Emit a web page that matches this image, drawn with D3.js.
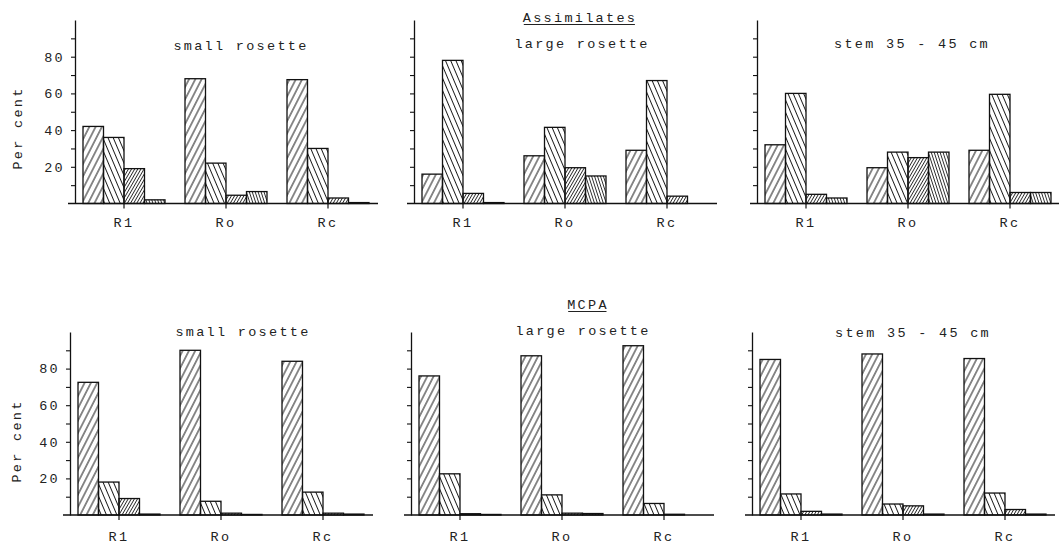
<!DOCTYPE html>
<html>
<head>
<meta charset="utf-8">
<script src="https://cdn.jsdelivr.net/npm/d3@7"></script>
<style>
  html, body { margin: 0; padding: 0; background: #fff; }
  svg { display: block; }
  text { font-family: "Liberation Mono", "DejaVu Sans Mono", monospace; fill: #222; }
</style>
</head>
<body>
<svg id="chart" width="1059" height="545"></svg>
<script>
// Categories and labels
const groups = ["R1", "Ro", "Rc"];
const fractions = [0, 1, 2, 3];            // four fractions per group, one hatch each
const rowTitles = ["Assimilates", "MCPA"];
const panelTitles = ["small rosette", "large rosette", "stem 35 - 45 cm"];
const yTickValues = [10, 20, 30, 40, 50, 60, 70, 80, 90];
const yTickLabels = [20, 40, 60, 80];
const yLabel = "Per cent";

// Per cent per fraction, one row per group (R1, Ro, Rc)
const assimSmall = [[42, 36, 19, 2], [68, 22, 4.5, 6.5], [67.5, 30, 3, 0.5]];
const assimLarge = [[16, 78, 5.5, 0.5], [26, 41.5, 19.5, 15], [29, 67, 4, 0]];
const assimStem  = [[32, 60, 5, 3], [19.5, 28, 25, 28], [29, 59.5, 6, 6]];
const mcpaSmall  = [[72.5, 18, 9, 0.5], [90, 7.5, 1, 0.3], [84, 12.5, 1, 0.5]];
const mcpaLarge  = [[76, 22.5, 0.7, 0.3], [87, 11, 1, 0.8], [92.5, 6.3, 0.4, 0]];
const mcpaStem   = [[85, 11.5, 2, 0.5], [88, 6, 5, 0.5], [85.5, 12, 3, 0.5]];

const rowData = [
  [assimSmall, assimLarge, assimStem],
  [mcpaSmall, mcpaLarge, mcpaStem]
];

// Layout of the two rows of panels
const rows = [
  { y0: 203.5, y100: 20, axisX: [75, 414, 757], titleX: 580, titleY: 22,
    subX: [241, 582, 912], subY: [50, 48, 48], labelPad: 9, yLabelX: 17, yLabelY: 128 },
  { y0: 515, y100: 332, axisX: [70, 411, 752], titleX: 588, titleY: 309,
    subX: [243, 583, 913], subY: [336, 335, 337], labelPad: 11, yLabelX: 16, yLabelY: 441 }
];

// Hatch definitions: angle from vertical, line spacing, line width
const hatches = [
  { angle: 27,  gap: 5.6, w: 1.0 },   // wide "/"
  { angle: -23, gap: 4.8, w: 1.0 },   // wide "\"
  { angle: 30,  gap: 2.7, w: 0.9 },   // dense "/"
  { angle: -18, gap: 2.8, w: 0.9 }    // dense "\"
];

const svg = d3.select("#chart");
const defs = svg.append("defs");
hatches.forEach((h, i) => {
  const p = defs.append("pattern")
    .attr("id", "hatch" + i)
    .attr("patternUnits", "userSpaceOnUse")
    .attr("width", h.gap)
    .attr("height", 10)
    .attr("patternTransform", `rotate(${h.angle})`);
  p.append("line")
    .attr("x1", h.gap / 2).attr("y1", -1)
    .attr("x2", h.gap / 2).attr("y2", 11)
    .attr("stroke", "#1a1a1a")
    .attr("stroke-width", h.w);
});

const fontSize = 13.5;
const spacing = 2.3;

rows.forEach((row, r) => {
  const y = d3.scaleLinear().domain([0, 100]).range([row.y0, row.y100]);

  // Row heading, underlined
  const title = svg.append("text")
    .attr("x", row.titleX).attr("y", row.titleY)
    .attr("text-anchor", "middle")
    .style("font-size", fontSize + "px")
    .style("letter-spacing", spacing + "px")
    .text(rowTitles[r]);
  const bb = title.node().getBBox();
  svg.append("line")
    .attr("x1", bb.x + 1).attr("x2", bb.x + bb.width - spacing)
    .attr("y1", row.titleY + 2.5).attr("y2", row.titleY + 2.5)
    .attr("stroke", "#222").attr("stroke-width", 1);

  // Vertical axis title
  svg.append("text")
    .attr("transform", `translate(${row.yLabelX},${row.yLabelY}) rotate(-90)`)
    .attr("text-anchor", "middle")
    .attr("dy", "0.35em")
    .style("font-size", fontSize + "px")
    .style("letter-spacing", spacing + "px")
    .text(yLabel);

  rowData[r].forEach((panel, c) => {
    const ax = row.axisX[c];
    const x = d3.scaleBand().domain(groups)
      .range([ax + 8, ax + 8 + 3 * 102 - 20])
      .paddingInner(20 / 102).paddingOuter(0);
    const xs = d3.scaleBand().domain(fractions).range([0, x.bandwidth()]);

    const g = svg.append("g");

    // Bars
    groups.forEach((grp, gi) => {
      g.selectAll(null)
        .data(panel[gi])
        .join("rect")
        .attr("x", (d, i) => x(grp) + xs(i))
        .attr("y", d => y(d))
        .attr("width", xs.bandwidth())
        .attr("height", d => y(0) - y(d))
        .attr("fill", (d, i) => `url(#hatch${i})`)
        .attr("stroke", "#111")
        .attr("stroke-width", 1.3);
    });

    // Baseline
    g.append("line")
      .attr("x1", ax - 7).attr("x2", ax + 303)
      .attr("y1", y(0)).attr("y2", y(0))
      .attr("stroke", "#111").attr("stroke-width", 1.3);

    // Category axis
    const xAxis = g.append("g")
      .attr("transform", `translate(0,${y(0)})`)
      .call(d3.axisBottom(x).tickSize(5).tickSizeOuter(0).tickPadding(row.labelPad));
    xAxis.select(".domain").remove();
    xAxis.selectAll(".tick line").attr("stroke", "#111").attr("stroke-width", 1.2);
    xAxis.selectAll(".tick text")
      .attr("fill", null)
      .style("font-family", "'Liberation Mono', monospace")
      .style("font-size", fontSize + "px")
      .style("letter-spacing", spacing + "px");

    // Value axis
    const yAxis = g.append("g")
      .attr("transform", `translate(${ax},0)`)
      .call(d3.axisLeft(y)
        .tickValues(yTickValues)
        .tickSize(4)
        .tickSizeOuter(0)
        .tickPadding(6)
        .tickFormat(v => (c === 0 && yTickLabels.includes(v)) ? String(v) : ""));
    yAxis.select(".domain").attr("stroke", "#111").attr("stroke-width", 1.3);
    yAxis.selectAll(".tick line").attr("stroke", "#111").attr("stroke-width", 1.1);
    yAxis.selectAll(".tick text")
      .attr("fill", null)
      .style("font-family", "'Liberation Mono', monospace")
      .style("font-size", fontSize + "px")
      .style("letter-spacing", spacing + "px");

    // Panel heading
    svg.append("text")
      .attr("x", row.subX[c]).attr("y", row.subY[c])
      .attr("text-anchor", "middle")
      .style("font-size", fontSize + "px")
      .style("letter-spacing", spacing + "px")
      .text(panelTitles[c]);
  });
});
</script>
</body>
</html>
